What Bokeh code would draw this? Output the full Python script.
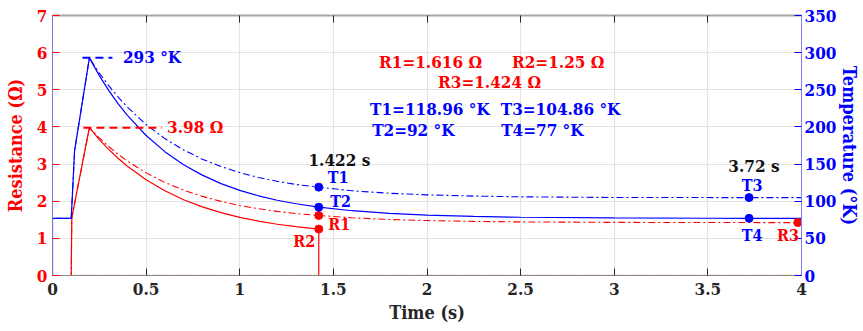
from bokeh.plotting import figure
from bokeh.models import LinearAxis, Range1d, FixedTicker, Label, CustomJSTickFormatter
from bokeh.embed import file_html
from bokeh.resources import INLINE

# ---------------- data ----------------
t_blue = [0, 0, 0.1, 0.118, 0.197, 0.25, 0.3, 0.35, 0.4, 0.5, 0.6, 0.7, 0.8, 0.9, 1.0,
          1.1, 1.2, 1.3, 1.422, 1.6, 1.8, 2.0, 2.25, 2.5, 3.0, 3.5, 3.72, 4.0]
T1 = [0, 77, 77, 168, 293, 272.5, 255.6, 240.3, 226.6, 203.2, 184.3, 169.0, 156.6, 146.6, 138.6,
      132.0, 126.8, 122.5, 118.96, 114.0, 110.7, 108.6, 106.9, 105.9, 105.0, 104.9, 104.86, 104.8]
T2 = [0, 77, 77, 168, 293, 269.1, 249.3, 231.5, 215.6, 188.5, 166.7, 149.2, 135.1, 123.7, 114.6,
      107.3, 101.3, 96.6, 92, 87.2, 83.6, 81.3, 79.5, 78.4, 77.5, 77.1, 77, 77]

t_r1 = [0, 0.1, 0.103, 0.197, 0.25, 0.3, 0.35, 0.4, 0.5, 0.6, 0.7, 0.8, 0.9, 1.0, 1.1, 1.2, 1.3,
        1.422, 1.6, 1.8, 2.0, 2.25, 2.5, 3.0, 3.5, 3.72, 4.0]
R1 = [0, 0, 1.55, 3.98, 3.703, 3.473, 3.266, 3.080, 2.763, 2.506, 2.299, 2.131, 1.996, 1.886, 1.797,
      1.726, 1.668, 1.616, 1.553, 1.508, 1.479, 1.456, 1.443, 1.430, 1.426, 1.425, 1.424]

t_r2 = [0, 0.1, 0.103, 0.197, 0.25, 0.3, 0.35, 0.4, 0.5, 0.6, 0.7, 0.8, 0.9, 1.0, 1.1, 1.2, 1.3,
        1.422, 1.422, 4.0]
R2 = [0, 0, 1.55, 3.98, 3.660, 3.395, 3.156, 2.942, 2.576, 2.280, 2.041, 1.847, 1.691, 1.565, 1.463,
      1.380, 1.314, 1.25, 0, 0]

mark_t_R = [1.422, 1.422, 3.98]
mark_R = [1.616, 1.25, 1.424]
mark_t_T = [1.422, 1.422, 3.72, 3.72]
mark_T = [118.96, 92, 104.86, 77]

peak_T_t = [0.16, 0.32]
peak_T = [293, 293]
peak_R_t = [0.165, 0.585]
peak_R = [3.98, 3.98]

x_ticks = [0, 0.5, 1, 1.5, 2, 2.5, 3, 3.5, 4]
y_ticks = [0, 1, 2, 3, 4, 5, 6, 7]
t_ticks = [0, 50, 100, 150, 200, 250, 300, 350]

RED = "#ff0000"
BLUE = "#0000ff"
FONT = "DejaVu Serif Condensed"

p = figure(width=863, height=331, x_range=Range1d(0, 4), y_range=Range1d(0, 7),
           output_backend="svg", toolbar_location=None,
           min_border_left=52, min_border_right=61, min_border_top=15, min_border_bottom=56)
p.extra_y_ranges = {"temp": Range1d(0, 350)}
p.outline_line_color = None
p.background_fill_color = "white"
p.border_fill_color = "white"

# axes
p.xaxis.ticker = FixedTicker(ticks=x_ticks)
p.yaxis.ticker = FixedTicker(ticks=y_ticks)
for ax in p.xaxis:
    ax.axis_label = "Time (s)"
    ax.axis_label_text_font = FONT
    ax.axis_label_text_font_style = "bold"
    ax.axis_label_text_font_size = "18px"
    ax.axis_label_text_color = "#262626"
    ax.axis_label_standoff = 4
    ax.major_label_text_font = FONT
    ax.major_label_text_font_style = "bold"
    ax.major_label_text_font_size = "17px"
    ax.major_label_text_color = "#262626"
    ax.major_label_standoff = 7
    ax.major_tick_in = 7
    ax.major_tick_out = 0
    ax.major_tick_line_color = "#262626"
    ax.minor_tick_line_color = None
    ax.axis_line_color = "#8c8c8c"
for ax in p.yaxis:
    ax.axis_label = "Resistance (Ω)"
    ax.axis_label_text_font = FONT
    ax.axis_label_text_font_style = "bold"
    ax.axis_label_text_font_size = "18px"
    ax.axis_label_text_color = RED
    ax.axis_label_standoff = 8
    ax.major_label_text_font = FONT
    ax.major_label_text_font_style = "bold"
    ax.major_label_text_font_size = "17px"
    ax.major_label_text_color = RED
    ax.major_label_standoff = 5
    ax.major_tick_in = 7
    ax.major_tick_out = 0
    ax.major_tick_line_color = RED
    ax.minor_tick_line_color = None
    ax.axis_line_color = "#6f7fc8"

right = LinearAxis(y_range_name="temp", ticker=FixedTicker(ticks=t_ticks),
                   axis_label="Temperature (°K)")
right.axis_label_text_font = FONT
right.axis_label_text_font_style = "bold"
right.axis_label_text_font_size = "18px"
right.axis_label_text_color = BLUE
right.axis_label_standoff = 0
right.major_label_text_font = FONT
right.major_label_text_font_style = "bold"
right.major_label_text_font_size = "17px"
right.major_label_text_color = BLUE
right.major_label_standoff = 3
right.major_tick_in = 7
right.major_tick_out = 0
right.major_tick_line_color = BLUE
right.minor_tick_line_color = None
right.axis_line_color = "#8080ff"
p.add_layout(right, "right")

top = LinearAxis(ticker=FixedTicker(ticks=x_ticks),
                 formatter=CustomJSTickFormatter(code="return ''"))
top.major_label_standoff = 0
top.major_tick_in = 7
top.major_tick_out = 0
top.major_tick_line_color = "#262626"
top.minor_tick_line_color = None
top.axis_line_color = "#a6a6a6"
top.axis_line_width = 2
p.add_layout(top, "above")

p.xgrid.ticker = FixedTicker(ticks=x_ticks)
p.ygrid.ticker = FixedTicker(ticks=y_ticks)
p.grid.grid_line_color = "#e3e3e3"
p.grid.grid_line_width = 1.2

# faint dotted line along bottom
p.line([0.1, 4.0], [0.025, 0.025], line_color="#f2b0a8", line_width=1, line_dash="1 2")

# curves
p.line(t_r1, R1, line_color=RED, line_width=1.1, line_dash="7 3 2 3")
p.line(t_r2, R2, line_color=RED, line_width=1.2)
p.line(t_blue, T1, line_color=BLUE, line_width=1.1, line_dash="7 3 2 3", y_range_name="temp")
p.line(t_blue, T2, line_color=BLUE, line_width=1.2, y_range_name="temp")

# peak guides
p.line(peak_T_t, peak_T, line_color=BLUE, line_width=2, line_dash="8 5", y_range_name="temp")
p.line(peak_R_t, peak_R, line_color=RED, line_width=2, line_dash="8 5")

# markers
p.scatter(mark_t_R, mark_R, size=8, color=RED)
p.scatter(mark_t_T, mark_T, size=8, color=BLUE, y_range_name="temp")


def lab(x, y, text, color, size="17px", align="left"):
    p.add_layout(Label(x=x, y=y, text=text, text_color=color, text_font=FONT,
                       text_font_style="bold", text_font_size=size,
                       text_align=align, text_baseline="middle"))


lab(0.376, 5.876, "293 °K", BLUE)
lab(0.612, 3.995, "3.98 Ω", RED)
lab(1.744, 5.76, "R1=1.616 Ω", RED)
lab(2.454, 5.76, "R2=1.25 Ω", RED)
lab(2.059, 5.204, "R3=1.424 Ω", RED)
lab(1.696, 4.47, "T1=118.96 °K", BLUE)
lab(2.394, 4.47, "T3=104.86 °K", BLUE)
lab(1.707, 3.906, "T2=92 °K", BLUE)
lab(2.396, 3.906, "T4=77 °K", BLUE)
lab(1.532, 3.118, "1.422 s", "#111111", align="center")
lab(1.525, 2.65, "T1", BLUE, size="16px", align="center")
lab(1.483, 2.005, "T2", BLUE, size="16px")
lab(1.473, 1.379, "R1", RED, size="16px")
lab(1.403, 0.903, "R2", RED, size="16px", align="right")
lab(3.746, 2.946, "3.72 s", "#111111", align="center")
lab(3.736, 2.427, "T3", BLUE, size="16px", align="center")
lab(3.736, 1.083, "T4", BLUE, size="16px", align="center")
lab(3.987, 1.083, "R3", RED, size="16px", align="right")

open("out.html", "w").write(file_html(p, INLINE))
